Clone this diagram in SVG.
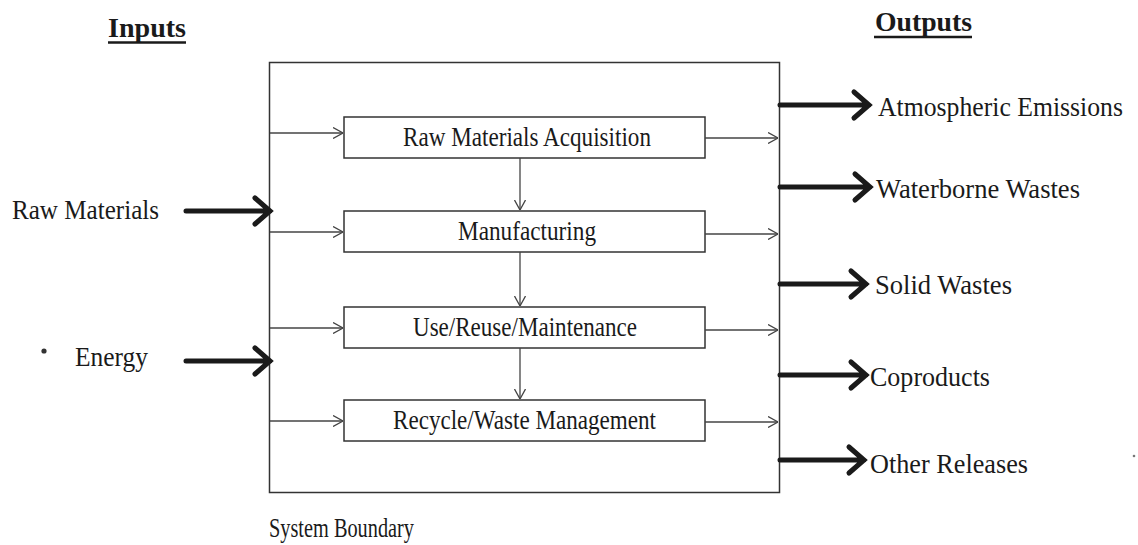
<svg xmlns="http://www.w3.org/2000/svg" width="1138" height="545" viewBox="0 0 1138 545">
<style>
.t{font-family:"Liberation Serif","Times New Roman",serif;font-size:27px;fill:#1a1a1a}
.h{font-family:"Liberation Serif","Times New Roman",serif;font-size:28px;font-weight:bold;fill:#1a1a1a}
.box{fill:#fff;stroke:#333;stroke-width:1.5}
.thin{stroke:#444;stroke-width:1.3;fill:none;marker-end:url(#ah)}
.thick{stroke:#1a1a1a;stroke-width:5;fill:none;stroke-linecap:round}
.ul{stroke:#1a1a1a;stroke-width:2.5}
</style>
<defs>
<marker id="ah" viewBox="0 0 10 12" refX="10" refY="6" markerWidth="10" markerHeight="12" markerUnits="userSpaceOnUse" orient="auto">
<path d="M0,0.5 L10,6 L0,11.5" fill="none" stroke="#444" stroke-width="1.3"/>
</marker>
</defs>
<rect width="1138" height="545" fill="#fff"/>
<g id="headings">
<text class="h" x="108" y="37" textLength="78" lengthAdjust="spacingAndGlyphs">Inputs</text>
<line class="ul" x1="108" y1="42.5" x2="186" y2="42.5"/>
<text class="h" x="875" y="31" textLength="97" lengthAdjust="spacingAndGlyphs">Outputs</text>
<line class="ul" x1="874" y1="37" x2="972" y2="37"/>
</g>
<g id="system-boundary">
<rect class="box" x="269.5" y="62.5" width="510" height="430"/>
<text class="t" x="269" y="537" font-size="24" textLength="145" lengthAdjust="spacingAndGlyphs">System Boundary</text>
</g>
<g id="raw-materials-acquisition">
<rect class="box" x="344" y="117" width="361" height="41"/>
<text class="t" x="403" y="146" textLength="248" lengthAdjust="spacingAndGlyphs">Raw Materials Acquisition</text>
</g>
<g id="manufacturing">
<rect class="box" x="344" y="211" width="361" height="41"/>
<text class="t" x="458" y="240" textLength="138" lengthAdjust="spacingAndGlyphs">Manufacturing</text>
</g>
<g id="use-reuse-maintenance">
<rect class="box" x="344" y="307" width="361" height="41"/>
<text class="t" x="413" y="336" textLength="224" lengthAdjust="spacingAndGlyphs">Use/Reuse/Maintenance</text>
</g>
<g id="recycle-waste-management">
<rect class="box" x="344" y="400" width="361" height="41"/>
<text class="t" x="393" y="429" textLength="263" lengthAdjust="spacingAndGlyphs">Recycle/Waste Management</text>
</g>
<g id="inputs">
<text class="t" x="12" y="219" textLength="147" lengthAdjust="spacingAndGlyphs">Raw Materials</text>
<circle cx="44" cy="351" r="2.6" fill="#333"/>
<text class="t" x="75" y="366" textLength="73" lengthAdjust="spacingAndGlyphs">Energy</text>
</g>
<g id="outputs">
<text class="t" x="878" y="116" textLength="245" lengthAdjust="spacingAndGlyphs">Atmospheric Emissions</text>
<text class="t" x="876" y="198" textLength="204" lengthAdjust="spacingAndGlyphs">Waterborne Wastes</text>
<text class="t" x="875" y="294" textLength="137" lengthAdjust="spacingAndGlyphs">Solid Wastes</text>
<text class="t" x="870" y="386" textLength="120" lengthAdjust="spacingAndGlyphs">Coproducts</text>
<text class="t" x="870" y="473" textLength="158" lengthAdjust="spacingAndGlyphs">Other Releases</text>
<circle cx="1134" cy="456" r="1.3" fill="#777"/>
</g>
<g id="connectors">
<line class="thin" x1="270" y1="133" x2="343" y2="133"/>
<line class="thin" x1="270" y1="232" x2="343" y2="232"/>
<line class="thin" x1="270" y1="328" x2="343" y2="328"/>
<line class="thin" x1="270" y1="421" x2="343" y2="421"/>
<line class="thin" x1="705" y1="138" x2="778" y2="138"/>
<line class="thin" x1="705" y1="234" x2="778" y2="234"/>
<line class="thin" x1="705" y1="330" x2="778" y2="330"/>
<line class="thin" x1="705" y1="422" x2="778" y2="422"/>
<line class="thin" x1="520" y1="158" x2="520" y2="210"/>
<line class="thin" x1="520" y1="252" x2="520" y2="306"/>
<line class="thin" x1="520" y1="348" x2="520" y2="399"/>
<path class="thick" d="M186,211 H270 M255,198 L270,211 L255,224"/>
<path class="thick" d="M186,361 H270 M255,348 L270,361 L255,374"/>
<path class="thick" d="M780,105 H869 M854,92 L869,105 L854,118"/>
<path class="thick" d="M780,187 H870 M855,174 L870,187 L855,200"/>
<path class="thick" d="M780,284 H866 M851,271 L866,284 L851,297"/>
<path class="thick" d="M780,375 H866 M851,362 L866,375 L851,388"/>
<path class="thick" d="M780,460 H864 M849,447 L864,460 L849,473"/>
</g>
</svg>
